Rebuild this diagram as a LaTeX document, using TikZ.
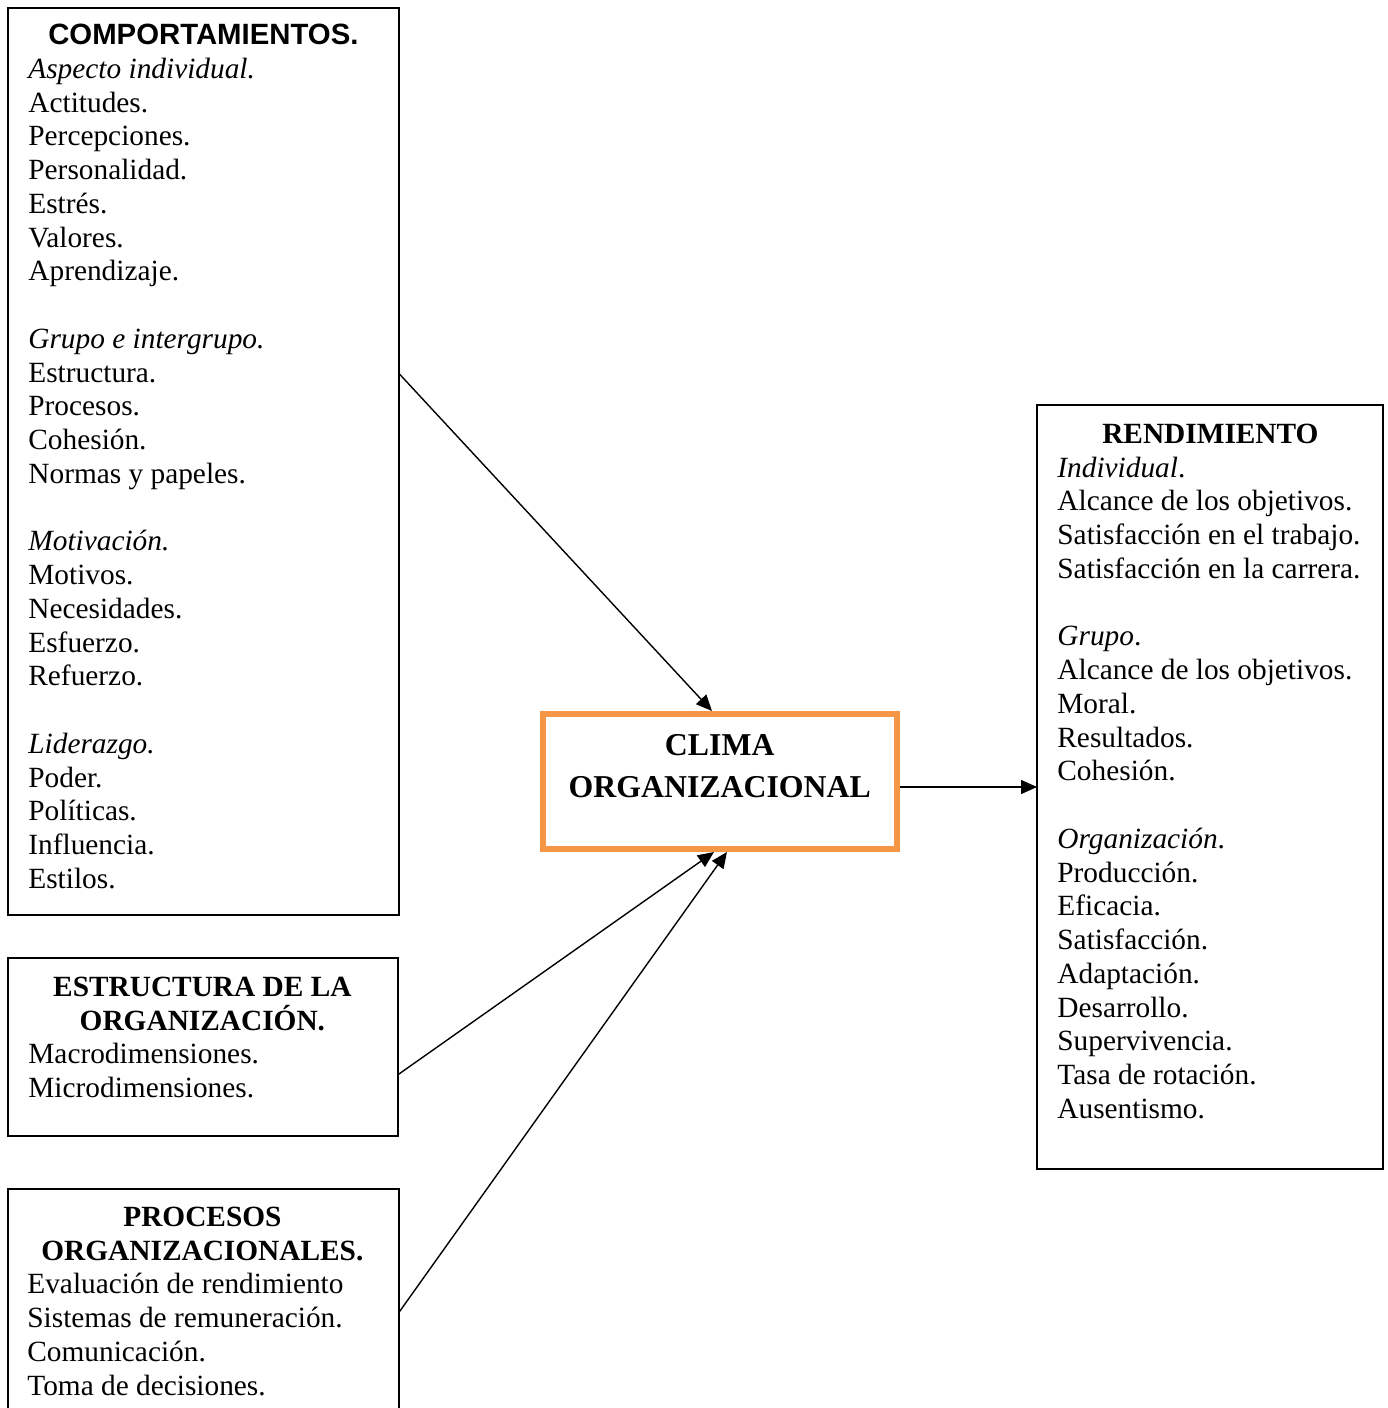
\documentclass[tikz,border=0pt]{standalone}
\usepackage{fontspec}
\setmainfont{Liberation Serif}
\setsansfont{Liberation Sans}
\usetikzlibrary{arrows.meta}
\definecolor{climaorange}{HTML}{F79646}
\setlength{\parindent}{0pt}

\begin{document}
\begin{tikzpicture}[
  x=0.5pt,y=-0.5pt,
  >={Triangle[length=8pt,width=7pt]},
  box/.style={draw,line width=1pt,anchor=north west,inner sep=0pt,outer sep=0pt},
  txt/.style={anchor=north west,inner sep=0pt,align=flush left,
    font=\fontsize{14.67pt}{16.875pt}\selectfont},
  flow/.style={->,line width=0.7pt}
]
  \useasboundingbox (0,0) rectangle (1387,1408);
  \clip (0,0) rectangle (1387,1408);

  \node[box,minimum width=195.5pt,minimum height=453.5pt] (comp) at (7.5,8) {};
  \node[box,minimum width=195pt,minimum height=89pt] (estr) at (7.5,958) {};
  \node[box,minimum width=195.5pt,minimum height=120pt] (proc) at (7.5,1188.5) {};
  \node[box,minimum width=173pt,minimum height=382pt] (rend) at (1037,405) {};
  \node[box,draw=climaorange,line width=3pt,outer sep=1.5pt,minimum width=176.75pt,
    minimum height=67.5pt] (clima) at (540,711) {};

  \node[txt,text width=175pt] (comptxt) at (28,16.25) {%
    {\centering\sffamily\bfseries\rule{0pt}{14pt}COMPORTAMIENTOS.\par}
    \textit{Aspecto individual.}\\
    Actitudes.\\
    Percepciones.\\
    Personalidad.\\
    Estrés.\\
    Valores.\\
    Aprendizaje.\\[16.875pt]
    \textit{Grupo e intergrupo.}\\
    Estructura.\\
    Procesos.\\
    Cohesión.\\
    Normas y papeles.\\[16.875pt]
    \textit{Motivación.}\\
    Motivos.\\
    Necesidades.\\
    Esfuerzo.\\
    Refuerzo.\\[16.875pt]
    \textit{Liderazgo.}\\
    Poder.\\
    Políticas.\\
    Influencia.\\
    Estilos.};

  \node[txt,text width=174pt] (estrtxt) at (28,968) {%
    {\centering\bfseries\rule{0pt}{14pt}ESTRUCTURA DE LA\\ORGANIZACIÓN.\par}
    Macrodimensiones.\\
    Microdimensiones.};

  \node[txt,text width=175pt] (proctxt) at (27,1198) {%
    {\centering\bfseries\rule{0pt}{14pt}PROCESOS\\ORGANIZACIONALES.\par}
    Evaluación de rendimiento\\
    Sistemas de remuneración.\\
    Comunicación.\\
    Toma de decisiones.};

  \node[txt,text width=153pt] (rendtxt) at (1057,415) {%
    {\centering\bfseries\rule{0pt}{14pt}RENDIMIENTO\par}
    \textit{Individual}.\\
    Alcance de los objetivos.\\
    Satisfacción en el trabajo.\\
    Satisfacción en la carrera.\\[16.875pt]
    \textit{Grupo}.\\
    Alcance de los objetivos.\\
    Moral.\\
    Resultados.\\
    Cohesión.\\[16.875pt]
    \textit{Organización}.\\
    Producción.\\
    Eficacia.\\
    Satisfacción.\\
    Adaptación.\\
    Desarrollo.\\
    Supervivencia.\\
    Tasa de rotación.\\
    Ausentismo.};

  \node[anchor=north,inner sep=0pt,text width=170pt,align=center,
    font=\fontsize{15.9pt}{21pt}\selectfont\bfseries] (climatxt)
    at (719.75,727) {\rule{0pt}{14pt}CLIMA\\ORGANIZACIONAL};

  \draw[flow] ([yshift=-182.5pt]comp.north east) -- ([xshift=-3.9pt]clima.north);
  \draw[flow] ([yshift=-58.5pt]estr.north east) -- ([xshift=-2.9pt]clima.south);
  \draw[flow] ([yshift=-62.25pt]proc.north east) -- ([xshift=3.6pt]clima.south);
  \draw[flow] (clima.east |- rend.west) -- (rend.west);
\end{tikzpicture}
\end{document}
